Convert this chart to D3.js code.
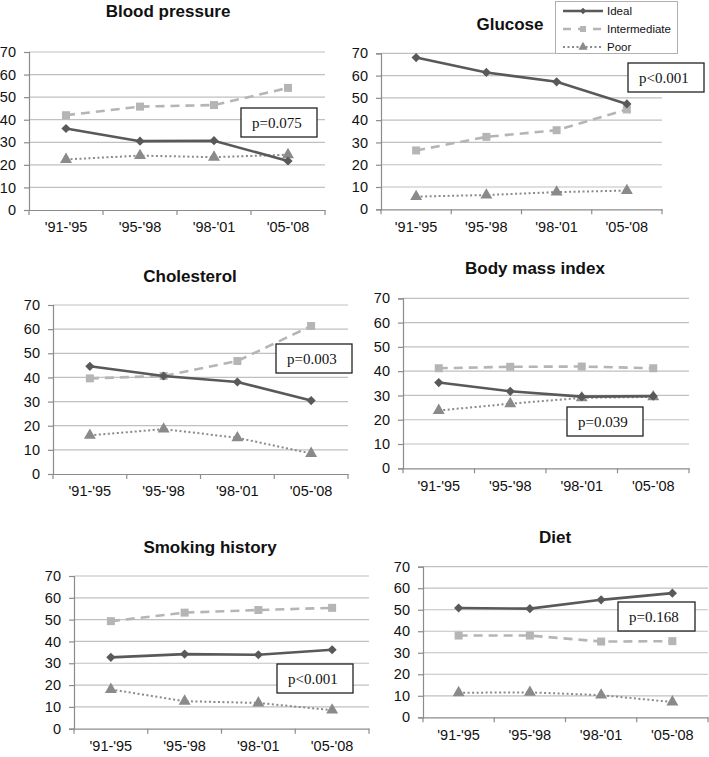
<!DOCTYPE html>
<html>
<head>
<meta charset="utf-8">
<script src="https://cdn.jsdelivr.net/npm/d3@7"></script>
<style>
  html, body { margin: 0; padding: 0; background: #fff; }
  svg { display: block; }
</style>
</head>
<body>
<svg id="chart" width="709" height="757"></svg>
<script>
// ---------- DATA ----------
const categories = ["'91-'95", "'95-'98", "'98-'01", "'05-'08"];
const yTicks = [0, 10, 20, 30, 40, 50, 60, 70];
const seriesNames = ["Ideal", "Intermediate", "Poor"];

const panelTitles = ["Blood pressure", "Glucose", "Cholesterol", "Body mass index", "Smoking history", "Diet"];
const pValues = ["p=0.075", "p<0.001", "p=0.003", "p=0.039", "p<0.001", "p=0.168"];

const bpIdeal = [36.1, 30.5, 30.7, 21.7];
const bpIntermediate = [42.0, 45.8, 46.5, 54.1];
const bpPoor = [22.4, 24.1, 23.4, 24.5];

const glucoseIdeal = [68.1, 61.4, 57.2, 47.3];
const glucoseIntermediate = [26.4, 32.5, 35.5, 44.8];
const glucosePoor = [5.7, 6.4, 7.7, 8.4];

const cholIdeal = [44.6, 40.6, 38.1, 30.4];
const cholIntermediate = [39.6, 40.6, 46.8, 61.3];
const cholPoor = [16.0, 18.6, 15.0, 8.5];

const bmiIdeal = [35.3, 31.7, 29.5, 29.7];
const bmiIntermediate = [41.2, 41.8, 41.9, 41.2];
const bmiPoor = [23.8, 26.6, 29.0, 29.4];

const smokeIdeal = [32.7, 34.2, 33.9, 36.2];
const smokeIntermediate = [49.3, 53.2, 54.4, 55.4];
const smokePoor = [18.0, 12.6, 11.8, 8.5];

const dietIdeal = [50.8, 50.5, 54.6, 57.7];
const dietIntermediate = [38.0, 38.0, 35.2, 35.4];
const dietPoor = [11.4, 11.6, 10.3, 7.1];

const panelData = [
  [bpIdeal, bpIntermediate, bpPoor],
  [glucoseIdeal, glucoseIntermediate, glucosePoor],
  [cholIdeal, cholIntermediate, cholPoor],
  [bmiIdeal, bmiIntermediate, bmiPoor],
  [smokeIdeal, smokeIntermediate, smokePoor],
  [dietIdeal, dietIntermediate, dietPoor]
];

// ---------- LAYOUT ----------
const layouts = [
  { x0: 29,  x1: 325, yTop: 52,    yBot: 210,   titleX: 168, titleY: 17,  pBox: [241, 108, 317, 137] },
  { x0: 381, x1: 662, yTop: 53.3,  yBot: 209.3, titleX: 510, titleY: 30,  pBox: [628, 63, 704, 92] },
  { x0: 53,  x1: 348, yTop: 305,   yBot: 474,   titleX: 190, titleY: 282, pBox: [276, 344, 352, 373] },
  { x0: 403, x1: 689, yTop: 298.3, yBot: 468.3, titleX: 535, titleY: 274, pBox: [567, 407, 643, 436] },
  { x0: 74,  x1: 369, yTop: 576,   yBot: 728.7, titleX: 210, titleY: 553, pBox: [277, 664, 353, 693] },
  { x0: 423, x1: 708, yTop: 566.7, yBot: 717.3, titleX: 555, titleY: 543, pBox: [618, 602, 695, 631] }
];

const seriesStyle = [
  { color: "#595959", width: 2.6, dash: null,  marker: "diamond" },
  { color: "#b5b5b5", width: 2.6, dash: "9,6", marker: "square" },
  { color: "#8a8a8a", width: 2,   dash: "2,2.5", marker: "triangle" }
];

const sans = "'Liberation Sans', Arial, sans-serif";
const serif = "'Liberation Serif', 'Times New Roman', serif";

const svg = d3.select("#chart");

function diamondPath(s) {
  return `M0,${-s}L${s},0L0,${s}L${-s},0Z`;
}
function markerPath(type) {
  if (type === "diamond") return diamondPath(4.6);
  if (type === "square") return d3.symbol().type(d3.symbolSquare).size(64)();
  return d3.symbol().type(d3.symbolTriangle).size(62)();
}

layouts.forEach((L, pi) => {
  const g = svg.append("g");
  const x = d3.scaleBand().domain(categories).range([L.x0, L.x1]).padding(0);
  const y = d3.scaleLinear().domain([0, 70]).range([L.yBot, L.yTop]);

  // gridlines
  g.selectAll("line.grid").data(yTicks.filter(v => v > 0)).enter().append("line")
    .attr("x1", L.x0).attr("x2", L.x1)
    .attr("y1", d => y(d)).attr("y2", d => y(d))
    .attr("stroke", "#c0c0c0").attr("stroke-width", 1.2);

  // y axis
  const ya = g.append("g").attr("transform", `translate(${L.x0},0)`)
    .call(d3.axisLeft(y).tickValues(yTicks).tickSize(5).tickPadding(8).tickFormat(d3.format("d")));
  ya.select(".domain").attr("stroke", "#8c8c8c").attr("stroke-width", 1.2);
  ya.selectAll(".tick line").attr("stroke", "#8c8c8c").attr("stroke-width", 1.2);
  ya.selectAll(".tick text").attr("font-family", sans).attr("font-size", 14.5).attr("fill", "#111");

  // x axis
  const xa = g.append("g").attr("transform", `translate(0,${L.yBot})`)
    .call(d3.axisBottom(x).tickSize(0).tickPadding(12));
  xa.select(".domain").attr("stroke", "#8c8c8c").attr("stroke-width", 1.2);
  xa.selectAll(".tick text").attr("font-family", sans).attr("font-size", 14.5).attr("fill", "#111");
  const edges = categories.map(c => x(c)).concat([x(categories[categories.length - 1]) + x.bandwidth()]);
  g.selectAll("line.xt").data(edges).enter().append("line")
    .attr("x1", d => d).attr("x2", d => d)
    .attr("y1", L.yBot).attr("y2", L.yBot + 5)
    .attr("stroke", "#8c8c8c").attr("stroke-width", 1.2);

  // series
  const cx = c => x(c) + x.bandwidth() / 2;
  const line = d3.line().x((d, i) => cx(categories[i])).y(d => y(d));
  [2, 1, 0].forEach(si => {
    const st = seriesStyle[si];
    const vals = panelData[pi][si];
    const p = g.append("path").attr("d", line(vals))
      .attr("fill", "none").attr("stroke", st.color).attr("stroke-width", st.width);
    if (st.dash) p.attr("stroke-dasharray", st.dash);
    g.selectAll(null).data(vals).enter().append("path")
      .attr("d", markerPath(st.marker))
      .attr("transform", (d, i) => `translate(${cx(categories[i])},${y(d)})`)
      .attr("fill", st.color);
  });

  // title
  g.append("text").attr("x", L.titleX).attr("y", L.titleY)
    .attr("text-anchor", "middle").attr("font-family", sans)
    .attr("font-weight", "bold").attr("font-size", 17).attr("fill", "#111")
    .text(panelTitles[pi]);

  // p-value box
  const [bx0, by0, bx1, by1] = L.pBox;
  g.append("rect").attr("x", bx0).attr("y", by0).attr("width", bx1 - bx0).attr("height", by1 - by0)
    .attr("fill", "#fff").attr("stroke", "#222").attr("stroke-width", 1.3);
  g.append("text").attr("x", bx0 + 11).attr("y", (by0 + by1) / 2 + 5)
    .attr("font-family", serif).attr("font-size", 15).attr("fill", "#111")
    .text(pValues[pi]);
});

// legend
const lg = svg.append("g");
lg.append("rect").attr("x", 555.5).attr("y", 1.5).attr("width", 122).attr("height", 52)
  .attr("fill", "#fff").attr("stroke", "#b0b0b0").attr("stroke-width", 1);
const legendY = [11, 29, 47];
seriesNames.forEach((name, i) => {
  const st = seriesStyle[i];
  const l = lg.append("line").attr("x1", 563).attr("x2", 603)
    .attr("y1", legendY[i]).attr("y2", legendY[i])
    .attr("stroke", st.color).attr("stroke-width", st.width);
  if (st.dash) l.attr("stroke-dasharray", i === 1 ? "8,7" : "2,2.5");
  lg.append("path")
    .attr("d", st.marker === "diamond" ? diamondPath(3.2) : d3.symbol().type(st.marker === "square" ? d3.symbolSquare : d3.symbolTriangle).size(36)())
    .attr("transform", `translate(583,${legendY[i]})`).attr("fill", st.color);
  lg.append("text").attr("x", 607).attr("y", legendY[i] + 4)
    .attr("font-family", sans).attr("font-size", 11.5).attr("fill", "#111").text(name);
});
</script>
</body>
</html>
